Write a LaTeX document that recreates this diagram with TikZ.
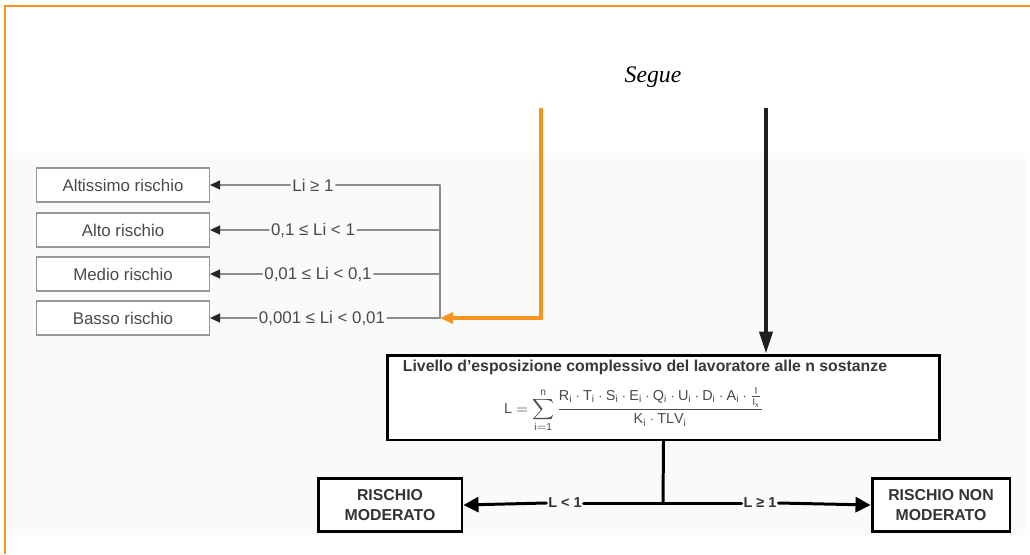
\documentclass[tikz,border=0pt]{standalone}
\usepackage{amsmath,amssymb}
\usepackage{fontspec}
\setmainfont{Liberation Serif}
\setsansfont{Liberation Sans}
\usepackage{tikz}
\usetikzlibrary{arrows.meta}
\usepackage{xcolor}
\definecolor{cornice}{HTML}{F7941D}
\definecolor{grigiotesto}{HTML}{4A4A4A}
\definecolor{grigiolinea}{HTML}{8C8C8C}
\newcommand{\sottoi}[1]{\mathsf{#1}_{\mathsf{i}}}

\begin{document}
\begin{tikzpicture}[x=0.02cm,y=-0.02cm,line cap=round,
  livbox/.style={draw=grigiolinea!90,line width=0.6pt,fill=white,minimum width=3.46cm,minimum height=0.68cm,inner sep=0pt,
    font=\sffamily\fontsize{9.6}{11}\selectfont,text=grigiotesto},
  livlab/.style={font=\sffamily\fontsize{9.6}{11}\selectfont,text=grigiotesto,inner sep=1pt},
  livlin/.style={draw=grigiolinea,line width=0.6pt},
  livfreccia/.style={livlin,-{Triangle[length=2mm,width=1.8mm,color=black!85]}},
  esitobox/.style={draw,line width=1.7pt,fill=white,inner sep=0pt,minimum height=1.06cm,align=center,
    font=\sffamily\bfseries\fontsize{9}{11.5}\selectfont,text=black!80},
  esitolab/.style={font=\sffamily\bfseries\fontsize{8.2}{10}\selectfont,text=black!80,inner sep=1pt}]
\useasboundingbox (0,0) rectangle (1030,554);
\fill[black!2] (7,153) rectangle (1025,535);
\draw[cornice,line width=1.5pt,line cap=butt] (1030,6) -- (5,6) -- (5,554);
\node[font=\itshape\fontsize{13.5}{15}\selectfont] (segue) at (653,77) {Segue};

% livelli di rischio
\node[livbox] (altiss) at (123,185) {Altissimo rischio};
\node[livbox] (alto) at (123,230) {Alto rischio};
\node[livbox] (medio) at (123,274) {Medio rischio};
\node[livbox] (basso) at (123,318) {Basso rischio};
\coordinate (r1) at (440,185);
\coordinate (r2) at (440,230);
\coordinate (r3) at (440,274);
\coordinate (r4) at (440,318);
\node[livlab] (c1) at (313,185) {Li ≥ 1};
\node[livlab] (c2) at (313,230) {0,1 ≤ Li < 1};
\node[livlab] (c3) at (318,274) {0,01 ≤ Li < 0,1};
\node[livlab] (c4) at (322,318) {0,001 ≤ Li < 0,01};
\draw[livlin] (r1) -- (r4);
\draw[livlin] (r1) -- (c1.east);
\draw[livlin] (r2) -- (c2.east);
\draw[livlin] (r3) -- (c3.east);
\draw[livlin] (r4) -- (c4.east);
\draw[livfreccia] (c1.west) -- (altiss.east);
\draw[livfreccia] (c2.west) -- (alto.east);
\draw[livfreccia] (c3.west) -- (medio.east);
\draw[livfreccia] (c4.west) -- (basso.east);

% livello complessivo
\node[draw,line width=1.7pt,fill=white,minimum width=11.06cm,minimum height=1.7cm] (espo) at (663.5,397.5) {};
\node[font=\sffamily\bfseries\fontsize{9}{10}\selectfont,text=black!78,inner sep=0pt] (titolo) at (645,367)
  {Livello d'esposizione complessivo del lavoratore alle n sostanze};
\node[text=grigiotesto,font=\fontsize{8.2}{10}\selectfont,inner sep=0pt] (formula) at (634,410)
  {$\displaystyle\mathsf{L}=\sum_{\mathsf{i=1}}^{\mathsf{n}}\frac{\sottoi{R}\cdot\sottoi{T}\cdot\sottoi{S}\cdot\sottoi{E}\cdot\sottoi{Q}\cdot\sottoi{U}\cdot\sottoi{D}\cdot\sottoi{A}\cdot\frac{\mathsf{I}}{\mathsf{I_x}}}{\sottoi{K}\cdot\sottoi{TLV}}$};

% frecce in arrivo
\coordinate (arancio) at (541,108);
\coordinate (nero) at (766,108);
\draw[cornice,line width=2.2pt,line cap=butt,-{Triangle[length=2.6mm,width=2.2mm]}] (arancio) |- (r4);
\draw[black!88,line width=2.2pt,line cap=butt,-{Triangle[length=4.4mm,width=2.6mm]}] (nero) -- (nero |- espo.north);

% esito
\node[esitobox,minimum width=2.88cm] (moderato) at (390,505) {RISCHIO\\MODERATO};
\node[esitobox,minimum width=2.76cm] (nonmod) at (941,505) {RISCHIO NON\\MODERATO};
\coordinate (bivio) at (663,503);
\node[esitolab] (lmin) at (565,503) {L < 1};
\node[esitolab] (lmag) at (760,503) {L ≥ 1};
\draw[line width=1.7pt] (espo.south) -- (bivio);
\draw[line width=1.7pt] (bivio) -- (lmin.east);
\draw[line width=1.7pt] (bivio) -- (lmag.west);
\draw[line width=1.7pt,-{Triangle[length=3mm,width=3mm]}] (lmin.west) -- (moderato.east);
\draw[line width=1.7pt,-{Triangle[length=3mm,width=3mm]}] (lmag.east) -- (nonmod.west);
\end{tikzpicture}
\end{document}
